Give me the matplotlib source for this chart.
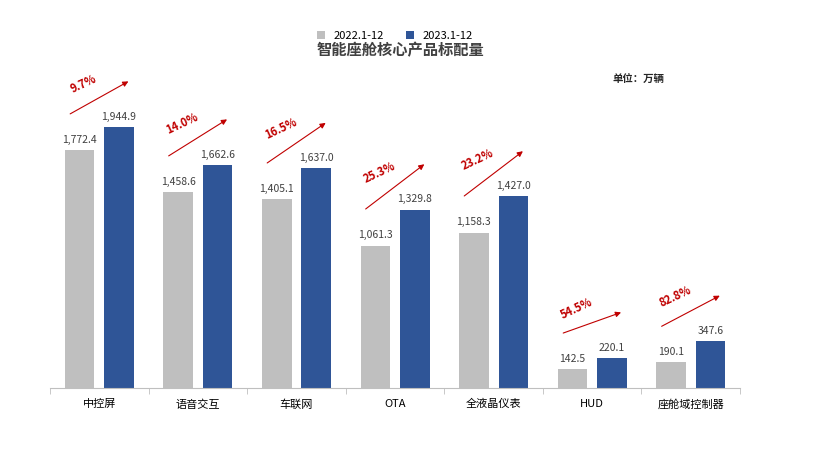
import matplotlib
matplotlib.use("Agg")
import matplotlib.pyplot as plt
import numpy as np

plt.rcParams['font.family'] = ['Noto Sans CJK SC']

categories = ["中控屏", "语音交互", "车联网", "OTA", "全液晶仪表", "HUD", "座舱域控制器"]
v2022 = [1772.4, 1458.6, 1405.1, 1061.3, 1158.3, 142.5, 190.1]
v2023 = [1944.9, 1662.6, 1637.0, 1329.8, 1427.0, 220.1, 347.6]
growth = ["9.7%", "14.0%", "16.5%", "25.3%", "23.2%", "54.5%", "82.8%"]
series_names = ["2022.1-12", "2023.1-12"]

fig = plt.figure(figsize=(8.3, 4.7), dpi=100)
ax = fig.add_axes([50/830, 1-388/470, 690/830, 328/470])
x = np.arange(len(categories))
w = 0.30
ax.bar(x-0.2, v2022, w, color="#BFBFBF", label=series_names[0])
ax.bar(x+0.2, v2023, w, color="#2F5597", label=series_names[1])
for i in range(len(x)):
    ax.text(x[i]-0.2, v2022[i]+40, f"{v2022[i]:,.1f}", ha="center", va="bottom", fontsize=7.5, color="#404040")
    ax.text(x[i]+0.2, v2023[i]+40, f"{v2023[i]:,.1f}", ha="center", va="bottom", fontsize=7.5, color="#404040")
    y0 = v2022[i]+260; y1 = v2023[i]+350
    ax.annotate("", xy=(x[i]+0.32, y1), xytext=(x[i]-0.32, y0),
                arrowprops=dict(arrowstyle="-|>", color="#C00000", lw=0.8, mutation_scale=8))
    ax.text(x[i]-0.13, (y0+y1)/2+60, growth[i], ha="center", va="bottom", fontsize=8,
            color="#C00000", fontweight="bold", rotation=25, rotation_mode="anchor")
ax.set_xlim(-0.5, 6.5)
ax.set_ylim(0, 2444)
ax.set_yticks([])
ax.set_xticks(x)
ax.set_xticklabels(categories, fontsize=8)
ax.set_xticks(np.arange(-0.5, 7, 1), minor=True)
ax.tick_params(axis="x", which="major", length=0, pad=8)
ax.tick_params(axis="x", which="minor", length=4, color="#BFBFBF")
for s in ["top", "right", "left"]:
    ax.spines[s].set_visible(False)
ax.spines["bottom"].set_color("#BFBFBF")
ax.legend(loc="upper center", bbox_to_anchor=(0.5, 1.12), ncol=2, frameon=False, fontsize=8,
          handlelength=0.7, handleheight=0.7, columnspacing=2)
fig.text(400/830, 1-50/470, "智能座舱核心产品标配量", ha="center", va="center", fontsize=11, fontweight="bold", color="#404040")
fig.text(638/830, 1-80/470, "单位：万辆", ha="center", va="center", fontsize=7.5, fontweight="bold", color="#262626")
fig.savefig("out.png", dpi=100)
